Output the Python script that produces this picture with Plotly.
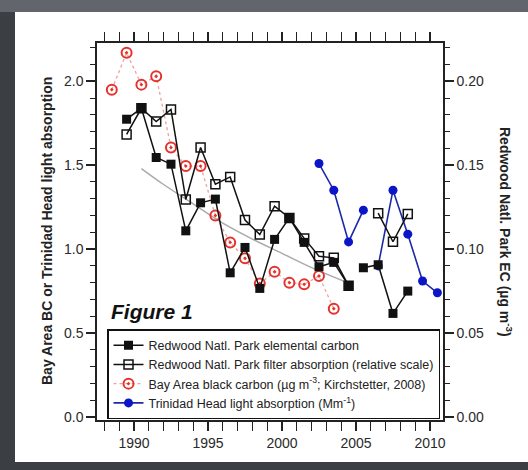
import plotly.graph_objects as go

# ---------------- data ----------------
years_bay = [1988.5, 1989.5, 1990.5, 1991.5, 1992.5, 1993.5, 1994.5, 1995.5,
             1996.5, 1997.5, 1998.5, 1999.5, 2000.5, 2001.5, 2002.5, 2003.5]
bay_bc = [1.95, 2.17, 1.98, 2.03, 1.605, 1.495, 1.495, 1.20,
          1.04, 0.945, 0.795, 0.865, 0.80, 0.79, 0.84, 0.645]

years_rnp = [1989.5, 1990.5, 1991.5, 1992.5, 1993.5, 1994.5, 1995.5, 1996.5,
             1997.5, 1998.5, 1999.5, 2000.5, 2001.5, 2002.5, 2003.5, 2004.5,
             None, 2005.5, 2006.5, 2007.5, 2008.5]
rnp_ec = [0.1774, 0.1839, 0.1546, 0.1506, 0.1109, 0.1276, 0.1298, 0.0859,
          0.1010, 0.0766, 0.1058, 0.1186, 0.1040, 0.0895, 0.0921, 0.0782,
          None, 0.0889, 0.0907, 0.0617, 0.0750]
rnp_filter = [0.1683, 0.1839, 0.1760, 0.1832, 0.1296, 0.1605, 0.1387, 0.1430,
              0.1173, 0.1087, 0.1256, 0.1186, 0.1064, 0.0958, 0.0948, 0.0782,
              None, None, 0.1214, 0.1044, 0.1210]

years_th = [2002.5, 2003.5, 2004.5, 2005.5, None, 2006.5, 2007.5, 2008.5, 2009.5, 2010.5]
th_abs = [1.51, 1.351, 1.043, 1.232, None, 0.90, 1.351, 1.089, 0.81, 0.74]

years_trend = [1990.5, 1992, 1994, 1996, 1998, 2000, 2002, 2004.3]
trend_vals = [1.48, 1.385, 1.27, 1.155, 1.06, 0.975, 0.89, 0.805]

x_ticks = [1990, 1995, 2000, 2005, 2010]
y_ticks = [0.0, 0.5, 1.0, 1.5, 2.0]
y2_ticks = [0.00, 0.05, 0.10, 0.15, 0.20]

FONT = "Liberation Sans, Arial, sans-serif"

fig = go.Figure()

fig.add_trace(go.Scatter(x=years_trend, y=trend_vals, mode="lines",
                         line=dict(color="#aaaaaa", width=1.5, shape="spline"),
                         showlegend=False, hoverinfo="skip"))

fig.add_trace(go.Scatter(x=years_bay, y=bay_bc, mode="lines+markers",
                         name="Bay Area black carbon (µg m<sup>-3</sup>; Kirchstetter, 2008)",
                         line=dict(color="#f0a0a0", width=1.3, dash="dot"),
                         marker=dict(symbol="circle-open-dot", size=10, color="#e5322c",
                                     line=dict(width=2, color="#e5322c")),
                         legendrank=3))

fig.add_trace(go.Scatter(x=years_th, y=th_abs, mode="lines+markers",
                         name="Trinidad Head light absorption (Mm<sup>-1</sup>)",
                         line=dict(color="#1c2aa8", width=1.6),
                         marker=dict(symbol="circle", size=9, color="#0a16c8"),
                         connectgaps=False, legendrank=4))

fig.add_trace(go.Scatter(x=years_rnp, y=rnp_filter, mode="lines+markers", yaxis="y2",
                         name="Redwood Natl. Park filter absorption (relative scale)",
                         line=dict(color="#111111", width=1.5),
                         marker=dict(symbol="square-open", size=9, color="#111111",
                                     line=dict(width=1.5, color="#111111")),
                         connectgaps=False, legendrank=2))

fig.add_trace(go.Scatter(x=years_rnp, y=rnp_ec, mode="lines+markers", yaxis="y2",
                         name="Redwood Natl. Park elemental carbon",
                         line=dict(color="#111111", width=1.5),
                         marker=dict(symbol="square", size=9, color="#111111"),
                         connectgaps=False, legendrank=1))

# plot area: x 97..443 px, y 43..420 px
L, R, T, B = 97, 443, 43, 420
W, H = 528, 470
pw, ph = R - L, B - T


def px(xp):
    return (xp - L) / pw


def py(yp):
    return (B - yp) / ph


axis_common = dict(showline=True, linecolor="#222222", linewidth=1.5,
                   ticks="outside", tickcolor="#222222", tickwidth=1.5,
                   showgrid=False, zeroline=False,
                   tickfont=dict(family=FONT, size=14, color="#2a2a2a"))

fig.update_layout(
    width=W, height=H,
    margin=dict(l=L, r=W - R, t=T, b=H - B),
    paper_bgcolor="#3b3f44",
    plot_bgcolor="white",
    font=dict(family=FONT, color="#222222"),
    xaxis=dict(range=[1987.5, 2010.88], tickvals=x_ticks, ticklen=9,
               mirror="allticks",
               minor=dict(dtick=1, ticklen=5, ticks="outside", tickcolor="#222222", tickwidth=1.2),
               **axis_common),
    yaxis=dict(range=[-0.018, 2.228], tickvals=y_ticks, tickformat=".1f", ticklen=9,
               minor=dict(dtick=0.1, ticklen=5, ticks="outside", tickcolor="#222222", tickwidth=1.2),
               **axis_common),
    yaxis2=dict(range=[-0.0018, 0.2228], tickvals=y2_ticks, tickformat=".2f", ticklen=9,
                overlaying="y", side="right",
                minor=dict(dtick=0.01, ticklen=5, ticks="outside", tickcolor="#222222", tickwidth=1.2),
                **axis_common),
    legend=dict(x=px(107), y=py(329), xanchor="left", yanchor="top",
                bgcolor="white", bordercolor="#111111", borderwidth=1.5,
                font=dict(family=FONT, size=12.5, color="#222222"),
                itemwidth=30, tracegroupgap=0),
    showlegend=True,
)

# white panel and the dark frame around it
fig.add_shape(type="rect", xref="paper", yref="paper",
              x0=px(15), x1=px(W + 5), y0=py(462), y1=py(12),
              fillcolor="white", line=dict(width=0), layer="below")
fig.add_shape(type="rect", xref="paper", yref="paper",
              x0=px(-5), x1=px(W + 5), y0=py(12), y1=py(-5),
              fillcolor="#62666c", line=dict(width=0), layer="below")

fig.add_annotation(text="<b><i>Figure 1</i></b>", xref="paper", yref="paper",
                   x=px(109), y=py(312), xanchor="left", yanchor="middle",
                   showarrow=False, font=dict(family=FONT, size=21, color="#111111"))

fig.add_annotation(text="<b>Bay Area BC or Trinidad Head light absorption</b>",
                   xref="paper", yref="paper", x=px(47), y=py(231),
                   xanchor="center", yanchor="middle", textangle=-90, showarrow=False,
                   font=dict(family=FONT, size=14, color="#222222"))

fig.add_annotation(text="<b>Redwood Natl. Park EC (µg m<sup>-3</sup>)</b>",
                   xref="paper", yref="paper", x=px(506), y=py(232),
                   xanchor="center", yanchor="middle", textangle=90, showarrow=False,
                   font=dict(family=FONT, size=14, color="#222222"))

fig.write_html("out.html")
